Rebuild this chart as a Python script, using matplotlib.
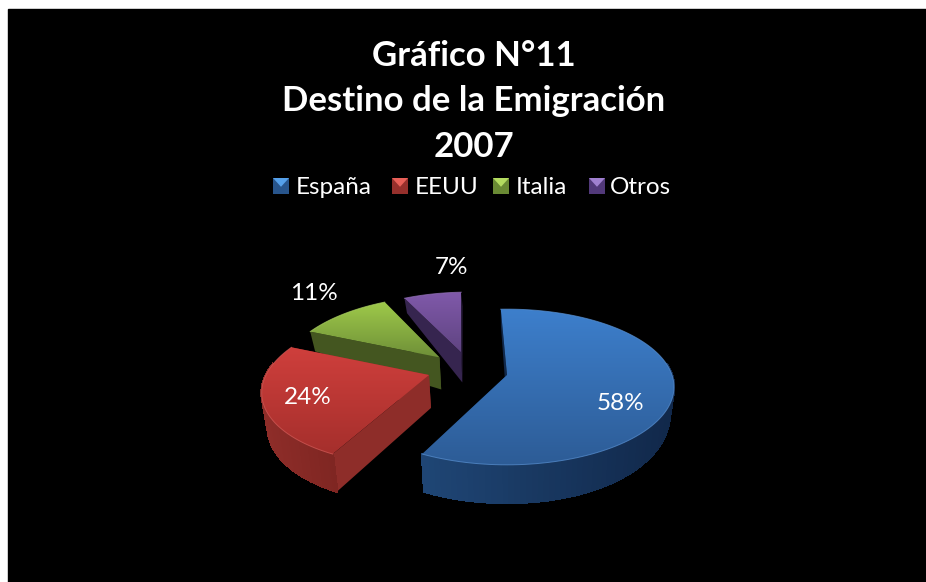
import matplotlib
matplotlib.use('Agg')
import matplotlib.pyplot as plt
from matplotlib.patches import Polygon, Rectangle
from matplotlib.colors import LinearSegmentedColormap
import numpy as np

plt.rcParams['font.family'] = ['Lato', 'DejaVu Sans']

titulo = ['Gráfico N°11', 'Destino de la Emigración', '2007']
paises = ['España', 'EEUU', 'Italia', 'Otros']
valores = [58, 24, 11, 7]

# top colour at back, top colour at front, side colour left, side colour right
top_back = ['#3d7fcc', '#cf3f3c', '#9fca4a', '#8059aa']
top_front = ['#2d5c96', '#a52f2c', '#6f9038', '#5f4481']
side_left = ['#1f4675', '#8e2d29', '#445620', '#36254f']
side_right = ['#11284a', '#7f2622', '#3c4c1c', '#2f2045']
leg_light = ['#55a0ea', '#e86058', '#b4dc60', '#a080d0']
leg_dark = ['#28558c', '#96302c', '#6a8a34', '#52397a']

# explosion of every slice on the floor of the pie, in pixels
off_u = [0, -78, -70, -48]
off_v = [0, 0, -.24, -.31]
radios = [165, 163, 158, 158]
lab_x = [620, 308, 314, 451]
lab_y = [404, 398, 294, 267]

cx, cy = 507, 375
b = 76
k = .154
start = -2.5

fig = plt.figure(figsize=(9.26, 5.82), dpi=100, facecolor='white')
ax = fig.add_axes([0, 0, 1, 1])
ax.set_xlim(0, 926)
ax.set_ylim(582, 0)
ax.axis('off')
ax.add_patch(Rectangle((8, 9), 918, 573, color='black', zorder=0))


def project(u, v, du):
    # u in pixels, v in radius units, +v towards the viewer
    f = 1 / (1 - k * v)
    return cx + f * (u + du), cy + b * v * f


def depth(u, v):
    d = np.interp(v, [-1.3, -.6, -.25, 0, 1], [14, 20, 32, 33, 38])
    return d - 9 * np.clip(u / 165, 0, 1) * (1 - np.clip(v, 0, 1))


def lerp(c1, c2, t):
    return tuple((1 - t) * np.array(matplotlib.colors.to_rgb(c1)) + t * np.array(matplotlib.colors.to_rgb(c2)))


def lower(x, y, d):
    return cx + (x - cx) * .975, y + d


z = 1
acum = np.cumsum([0] + valores) / sum(valores) * 360 + start
for i in [3, 2, 1, 0]:
    a = np.radians(np.linspace(acum[i], acum[i + 1], 120))
    u = np.sin(a) * radios[i]
    v = -np.cos(a)
    x, y = project(u, v + off_v[i], off_u[i])
    d = depth(u, v + off_v[i])
    x0, y0 = project(0, off_v[i], off_u[i])
    d0 = depth(0, off_v[i])
    xb, yb = lower(x, y, d)
    xb0, yb0 = lower(x0, y0, d0)

    # radial faces first, then the rim
    for n in [0, -1]:
        ax.add_patch(Polygon([(x0, y0), (x[n], y[n]), (xb[n], yb[n]), (xb0, yb0)],
                             closed=True, fc=side_left[i] if i else side_right[i], ec='none', zorder=z))
    z += 1
    for n in range(len(a) - 1):
        if v[n] < -.15:  # back of the rim is hidden by the top
            continue
        t = (x[n] - x.min()) / max(x.max() - x.min(), 1)
        col = lerp(side_left[i], side_right[i], t)
        ax.add_patch(Polygon([(x[n], y[n]), (x[n + 1], y[n + 1]), (xb[n + 1], yb[n + 1]), (xb[n], yb[n])],
                             closed=True, fc=col, ec=col, lw=1.2, antialiased=False, zorder=z))
    z += 1

    # top face with vertical gradient, clipped to the slice
    outline = np.column_stack([np.r_[x0, x], np.r_[y0, y]])
    cmap = LinearSegmentedColormap.from_list('top%d' % i, [top_back[i], top_front[i]])
    ymin, ymax = outline[:, 1].min(), outline[:, 1].max()
    im = ax.imshow(np.linspace(0, 1, 256).reshape(-1, 1), cmap=cmap, aspect='auto',
                   extent=[outline[:, 0].min(), outline[:, 0].max(), ymax, ymin], zorder=z)
    clip = Polygon(outline, closed=True, transform=ax.transData, fc='none', ec='none')
    ax.add_patch(clip)
    im.set_clip_path(clip)
    ax.plot(x, y, color=lerp(top_back[i], 'white', .15), lw=.7, alpha=.7, zorder=z + 1)
    z += 2

ax.set_xlim(0, 926)
ax.set_ylim(582, 0)

for etiqueta, px, py in zip(['%d%%' % val for val in valores], lab_x, lab_y):
    ax.text(px, py, etiqueta, color='white', fontsize=17.5, ha='center', va='center', zorder=z)

for linea, py in zip(titulo, [56, 101, 147]):
    ax.text(474, py, linea, color='white', fontsize=25, fontweight='bold', ha='center', va='center', zorder=z)

# legend
leg_x = [273, 392, 493, 589]
txt_x = [296, 415, 516, 610]
for i in range(4):
    lx, ly, s = leg_x[i], 178, 16
    ax.add_patch(Rectangle((lx, ly), s, s, fc=leg_dark[i], ec='none', zorder=z))
    ax.add_patch(Polygon([(lx, ly), (lx + s, ly), (lx + s / 2, ly + s * .55)], closed=True,
                         fc=leg_light[i], ec='none', zorder=z))
    ax.text(txt_x[i], 188, paises[i], color='white', fontsize=17.5, ha='left', va='center', zorder=z)

fig.savefig('out.png', dpi=100, facecolor=fig.get_facecolor())
